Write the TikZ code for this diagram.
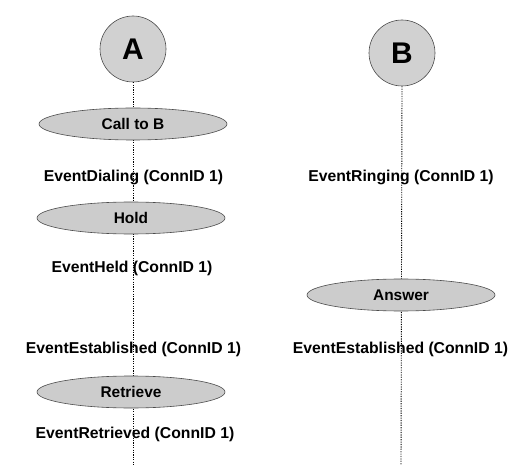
\documentclass[tikz,border=0pt]{standalone}
\usepackage{fontspec}
\setmainfont{Liberation Sans}
\usetikzlibrary{shapes.geometric}
\begin{document}
\begin{tikzpicture}[x=1bp,y=-1bp,
  actor/.style={circle,draw=black!70,fill=black!18,line width=0.6bp,minimum size=66bp,inner sep=0pt,font=\bfseries\fontsize{30}{32}\selectfont},
  act/.style={ellipse,draw=black!70,fill=black!20,line width=0.6bp,minimum width=188bp,minimum height=32bp,inner sep=0pt,font=\bfseries\fontsize{15.5}{18}\selectfont},
  evt/.style={inner sep=0pt,font=\bfseries\fontsize{15.8}{18}\selectfont},
  life/.style={dash pattern=on 1.2bp off 1.2bp,line width=0.9bp,black}]
\useasboundingbox (0,0) rectangle (525,465);
\node[actor] (A) at (133,49) {A};
\node[actor] (B) at (402,53) {B};
\coordinate (Aend) at (133,465);
\coordinate (Bend) at (401,465);
\draw[life] (A.south) -- (Aend);
\draw[life] (B.south) -- (Bend);
\node[act] (call) at (133,124) {Call to B};
\node[act] (hold) at (131,218) {Hold};
\node[act] (retr) at (131,392) {Retrieve};
\node[act] (ans) at (401,295) {Answer};
\node[evt] (dial) at (133.5,177) {EventDialing (ConnID 1)};
\node[evt] (ring) at (401,177) {EventRinging (ConnID 1)};
\node[evt] (held) at (132,268) {EventHeld (ConnID 1)};
\node[evt] (estA) at (133.5,349) {EventEstablished (ConnID 1)};
\node[evt] (estB) at (400.5,349) {EventEstablished (ConnID 1)};
\node[evt] (retd) at (135,434) {EventRetrieved (ConnID 1)};
\end{tikzpicture}
\end{document}
